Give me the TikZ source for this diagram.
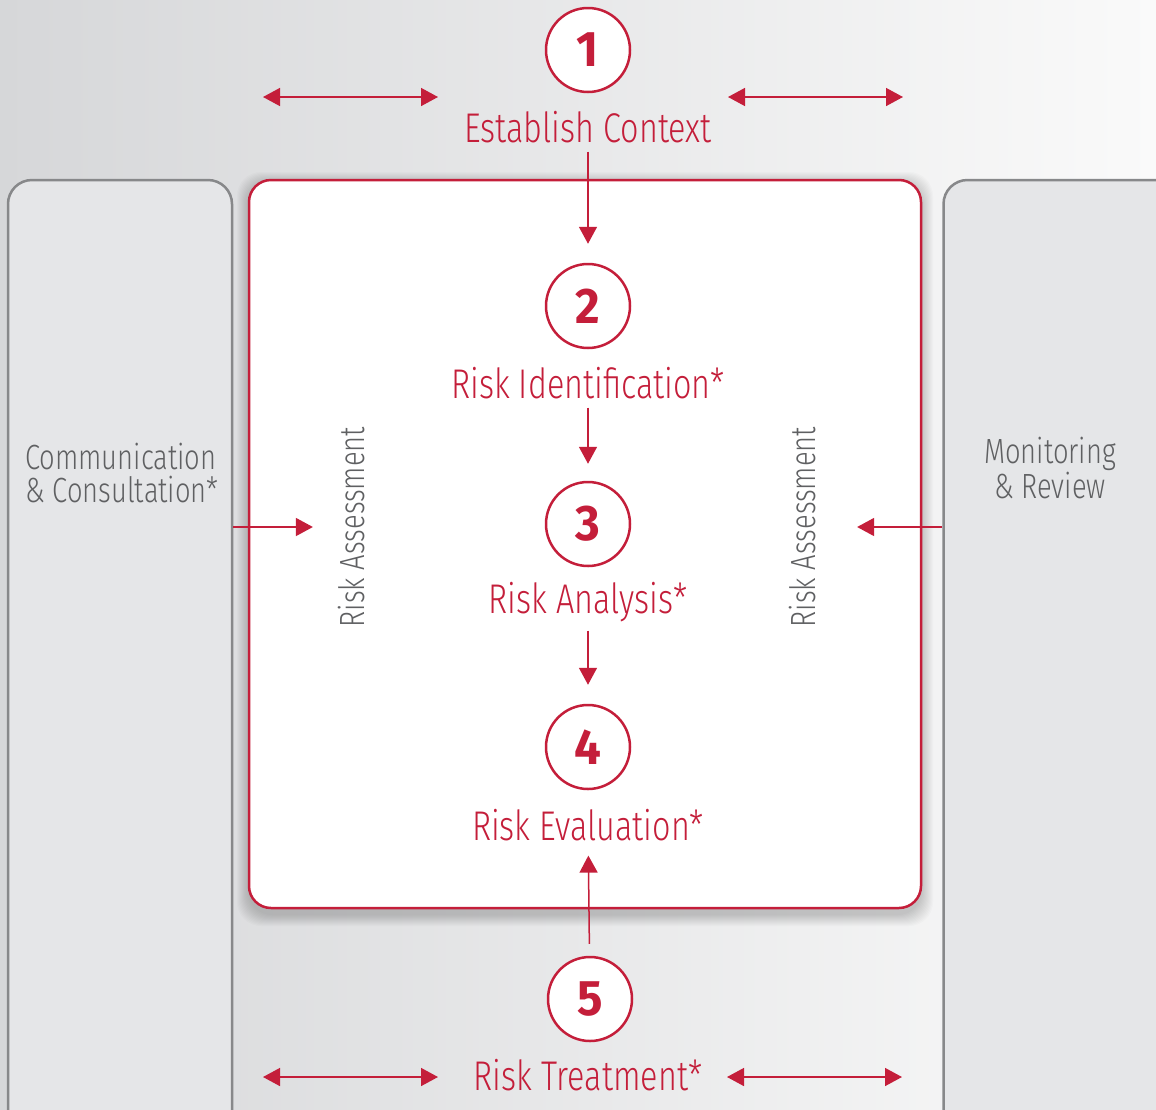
\documentclass[tikz,border=0pt]{standalone}
\usepackage{fontspec}
\setmainfont{Fira Sans Light}[FakeStretch=0.78]
\newfontfamily\numfont{Fira Sans}[FakeStretch=0.95]
\usetikzlibrary{arrows.meta}

\definecolor{riskred}{RGB}{196,30,58}
\definecolor{panelfill}{RGB}{229,230,232}
\definecolor{paneledge}{RGB}{135,136,138}
\definecolor{sidegray}{RGB}{95,96,98}
\definecolor{bgleft}{RGB}{214,215,217}
\definecolor{bgright}{RGB}{250,250,250}

\begin{document}
\begin{tikzpicture}[x=1pt,y=-1pt,line width=1.5pt,>={Triangle[length=17pt,width=18pt]},
  stepnum/.style={circle,draw=riskred,line width=2.5pt,fill=white,minimum size=84pt,inner sep=0pt,
    text=riskred,font=\numfont\bfseries\fontsize{50}{50}\selectfont},
  steplabel/.style={text=riskred,inner sep=2pt,font=\fontsize{41.5}{44}\selectfont},
  sidetext/.style={text=sidegray,inner sep=2pt,font=\fontsize{35}{33}\selectfont},
  panel/.style={draw=paneledge,fill=panelfill,line width=2.5pt,rounded corners=24pt,inner sep=0pt},
  flow/.style={draw=riskred,line width=1.5pt}]
  \useasboundingbox (0,0) rectangle (1156,1109);
  \clip (0,0) rectangle (1156,1109);
  % backdrop
  \shade[left color=bgleft,right color=bgright] (0,0) rectangle (1156,1109);
  % side panels
  \node[panel,minimum width=224pt,minimum height=960pt] (comm) at (120,660) {};
  \node[panel,minimum width=237pt,minimum height=960pt] (mon) at (1062,660) {};
  % soft shadow under the assessment box
  \coordinate (shnw) at (249,184);
  \coordinate (shse) at (921,914);
  \foreach \g in {1,...,12}
    \fill[black,opacity=0.016,rounded corners=24pt]
      ([shift={(-\g,-\g)}]shnw) rectangle ([shift={(\g,\g)}]shse);
  % assessment box
  \node[draw=riskred,fill=white,line width=2.5pt,rounded corners=22pt,minimum width=672pt,minimum height=728pt] (box) at (585,544) {};
  % numbered steps
  \node[stepnum] (n1) at (588,50) {1};
  \node[stepnum] (n2) at (588,306) {2};
  \node[stepnum] (n3) at (588,524) {3};
  \node[stepnum] (n4) at (588,747) {4};
  \node[stepnum] (n5) at (590,999) {5};
  \node[steplabel] (l1) at (588,127) {Establish Context};
  \node[steplabel] (l2) at (588,383) {Risk Identification*};
  \node[steplabel] (l3) at (588,602) {Risk Analysis*};
  \node[steplabel] (l4) at (588,825) {Risk Evaluation*};
  \node[steplabel] (l5) at (588,1075) {Risk Treatment*};
  % side labels
  \node[sidetext,align=left] (commtxt) at (122,473) {Communication\\\& Consultation*};
  \node[sidetext,align=center] (montxt) at (1050,468) {Monitoring\\\& Review};
  \node[sidetext,rotate=90] (raL) at (352,527) {Risk Assessment};
  \node[sidetext,rotate=90] (raR) at (803,527) {Risk Assessment};
  % flow arrows
  \draw[flow,->,shorten <=6pt,shorten >=19pt] (l1) -- (n2);
  \draw[flow,->,shorten <=6pt,shorten >=17pt] (l2) -- (n3);
  \draw[flow,->,shorten <=6pt,shorten >=19pt] (l3) -- (n4);
  \draw[flow,->,shorten <=12pt,shorten >=12pt] (n5) -- (l4);
  \draw[flow,->,shorten >=23pt] (comm.east |- raL) -- (raL);
  \draw[flow,->,shorten >=38pt] (mon.west |- raR) -- (raR);
  % double arrows beside context and treatment
  \coordinate (ctxa) at (263,97);  \coordinate (ctxb) at (438,97);
  \coordinate (ctxc) at (728,97);  \coordinate (ctxd) at (903,97);
  \coordinate (trta) at (263,1077); \coordinate (trtb) at (438,1077);
  \coordinate (trtc) at (727,1077); \coordinate (trtd) at (902,1077);
  \draw[flow,<->] (ctxa) -- (ctxb);
  \draw[flow,<->] (ctxc) -- (ctxd);
  \draw[flow,<->] (trta) -- (trtb);
  \draw[flow,<->] (trtc) -- (trtd);
\end{tikzpicture}
\end{document}
